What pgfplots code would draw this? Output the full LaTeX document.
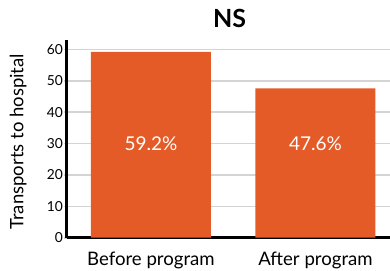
\documentclass[border=0pt]{standalone}
\usepackage{pgfplots}
\pgfplotsset{compat=1.18}
\usepackage{fontspec}
\setmainfont{Lato}
\definecolor{barorange}{HTML}{E45B28}
\definecolor{gridgray}{HTML}{D4D4D4}
\begin{document}
\begin{tikzpicture}
\path[use as bounding box] (-66.7bp,-33.3bp) rectangle (323.3bp,237.7bp);
\begin{axis}[
  at={(0,0)}, anchor=south west,
  scale only axis,
  width=323.3bp, height=197.7bp,
  xmin=-0.512, xmax=1.453,
  ymin=0, ymax=63,
  axis x line=bottom, axis y line=left,
  axis line style={line width=2.8bp, -},
  ytick={0,10,20,30,40,50,60},
  ymajorgrids,
  grid style={gridgray, line width=1.6bp},
  ytick style={gridgray, line width=1.6bp},
  y tick label style={font=\fontsize{13.8bp}{15bp}\selectfont, inner sep=0.5bp},
  tick align=outside,
  major tick length=3bp,
  xtick={0,1},
  xticklabels={Before program, After program},
  x tick label style={font=\fontsize{18.6bp}{20bp}\selectfont, anchor=base, yshift=-24.3bp},
  x tick style={draw=none},
  extra x ticks={0.5},
  extra x tick labels={},
  extra x tick style={grid=none, major tick length=3bp, tick align=inside, tick style={draw=black, line width=2.5bp}},
  /pgf/number format/assume math mode=true,
  clip=false,
]
\addplot[ybar, bar width=120bp, fill=barorange, draw=none] coordinates {(0,59.2) (1,47.6)};
\node[text=white, font=\fontsize{19bp}{21bp}\selectfont] at (axis cs:0,30) {59.2\%};
\node[text=white, font=\fontsize{19bp}{21bp}\selectfont] at (axis cs:1,30) {47.6\%};
\end{axis}
\node[font=\fontsize{25bp}{28bp}\selectfont\bfseries] at (163bp,219.4bp) {NS};
\node[rotate=90, font=\fontsize{18.5bp}{20bp}\selectfont] at (-48.5bp,96bp) {Transports to hospital};
\end{tikzpicture}
\end{document}
